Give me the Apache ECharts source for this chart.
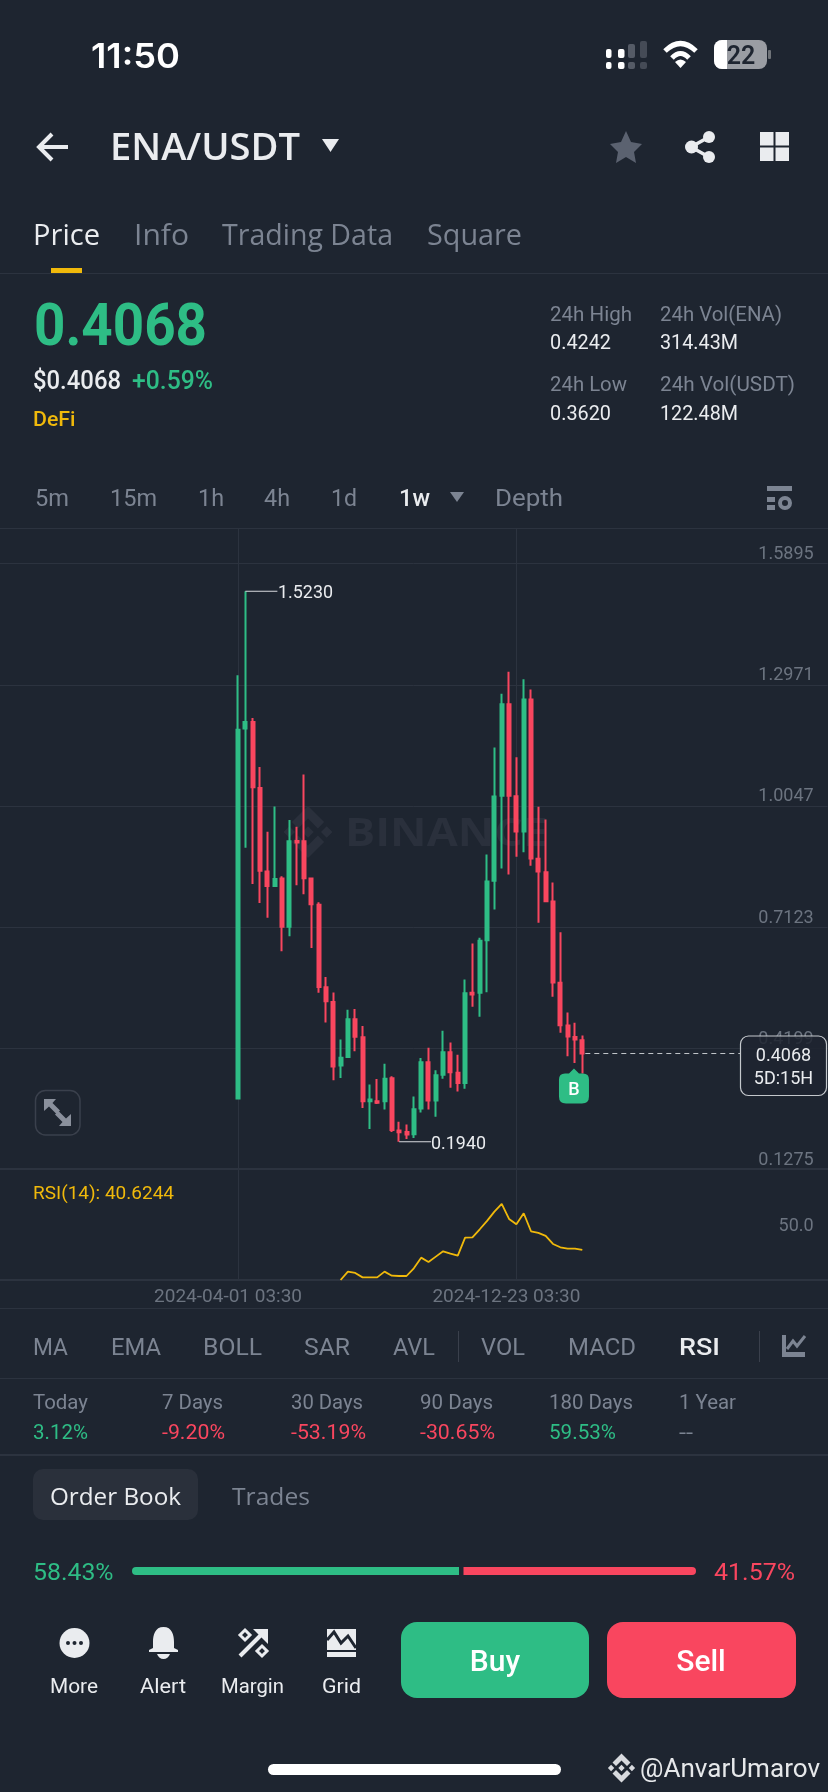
<!DOCTYPE html>
<html><head><meta charset="utf-8">
<script src="https://cdn.jsdelivr.net/npm/echarts@6/dist/echarts.min.js"></script>
<style>html,body{margin:0;padding:0;background:#1e2530}#c{width:828px;height:1792px}</style>
</head><body><div id="c"></div>
<script>
const dates=['2024-04-01','2024-04-08','2024-04-15','2024-04-22','2024-04-29','2024-05-06','2024-05-13','2024-05-20','2024-05-27','2024-06-03','2024-06-10','2024-06-17','2024-06-24','2024-07-01','2024-07-08','2024-07-15','2024-07-22','2024-07-29','2024-08-05','2024-08-12','2024-08-19','2024-08-26','2024-09-02','2024-09-09','2024-09-16','2024-09-23','2024-09-30','2024-10-07','2024-10-14','2024-10-21','2024-10-28','2024-11-04','2024-11-11','2024-11-18','2024-11-25','2024-12-02','2024-12-09','2024-12-16','2024-12-23','2024-12-30','2025-01-06','2025-01-13','2025-01-20','2025-01-27','2025-02-03','2025-02-10','2025-02-17','2025-02-24'];
const opens=[.2983,1.1913,1.2075,1.0480,.8465,.8112,.8293,.7128,.9200,.9191,.8293,.7663,.5667,.5314,.3776,.3986,.4893,.4464,.2917,.2917,.2917,.3470,.2208,.2176,.2120,.2740,.3859,.2933,.3553,.4100,.3601,.3359,.5533,.5533,.6805,.8238,1.0291,1.2504,1.0283,.9429,1.2617,.8769,.8447,.7739,.5775,.4744,.4470,.4390];
const closes=[1.1884,1.2075,1.0499,.8484,.8112,.8284,.7128,.9191,.9162,.8303,.7672,.5677,.5333,.3757,.3967,.4893,.4473,.2917,.2955,.2879,.3461,.2220,.2168,.2112,.2724,.3859,.2933,.3545,.4100,.3617,.3359,.5525,.5493,.6789,.8222,1.0275,1.2504,1.0291,.9429,1.2617,.8777,.8463,.7747,.5783,.4752,.4479,.4406,.4068];
const lows=[.2983,.9038,.8160,.7701,.7348,.8093,.6536,.6899,.8131,.7911,.6613,.5533,.4817,.3423,.3480,.3967,.4120,.2754,.2248,.2850,.2716,.2172,.1940,.2007,.2031,.2643,.2716,.2539,.3456,.3239,.3150,.3215,.5195,.4954,.5549,.7546,.8536,.8391,.8818,.8930,.8600,.7223,.7731,.5436,.4567,.4004,.3842,.3585];
const highs=[1.3202,1.5230,1.2170,1.0986,.9420,1.0031,.8351,.9707,.9544,1.0805,.8293,.7720,.5915,.5543,.4406,.5123,.5141,.4731,.3318,.3452,.3824,.3518,.2418,.2353,.3030,.3963,.4205,.3665,.4615,.4334,.4036,.5855,.6724,.6861,.8874,1.1458,1.2754,1.3285,1.1224,1.3108,1.2859,1.0025,.9719,.8198,.6998,.5058,.4809,.4503];
const rsiValues=[28.54,31.9,31.36,29.6,29.6,29.6,31.9,30.28,30.15,30.15,33.24,37.53,35.79,37.94,40.08,39.14,38.34,45.59,45.72,48.94,52.3,56.06,59.14,53.1,50.96,55.38,48.14,47.47,46.26,43.04,41.69,41.16,41.16,40.62];
const rsiFirstIndex=14;
const priceTicks=[1.5895,1.2971,1.0047,.7123,.4199,.1275];
const rsiTicks=[50];
const labelledDates=['2024-04-01','2024-12-23'];
const lastPrice=.4068;

const LEAD=32, TRAIL=33, BG='#1e2530', GREEN='#2ebd85', RED='#f9465f', GREY='#7c8492', AXIS='#6c7480', LINE='#2c333f', WHITE='#eaecef', YEL='#f0b90b';
const cats=[...Array(LEAD).fill(''),...dates.map(d=>labelledDates.includes(d)?d+' 03:30':d),...Array(TRAIL).fill('')];
const candles=dates.map((d,i)=>[LEAD+i,opens[i],closes[i],lows[i],highs[i]]);
const rsiLine=rsiValues.map((v,i)=>[LEAD+rsiFirstIndex+i,v]);
const markIdx=labelledDates.map(d=>LEAD+dates.indexOf(d));

const FF='Roboto';
const mc=document.createElement('canvas').getContext('2d');
function T(text,x0,x1,yc,size,fill,weight,family){
  const font=(weight||400)+' '+size+'px '+(family||FF);
  mc.font=font;
  const s=x1?(x1-x0)/mc.measureText(text).width:1;
  return {type:'text',x:x0,y:yc+size*0.07,scaleX:s,originX:0,originY:0,z:20,silent:true,style:{text,font,fill,textAlign:'left',textVerticalAlign:'middle'}};
}
function C(text,cx,yc,size,fill,weight){
  return {type:'text',x:cx,y:yc+size*0.07,z:20,silent:true,style:{text,font:(weight||400)+' '+size+'px '+FF,fill,textAlign:'center',textVerticalAlign:'middle'}};
}
function R(x0,y0,x1,y1,fill,r,extra){
  return Object.assign({type:'rect',z:10,silent:true,shape:{x:x0,y:y0,width:x1-x0,height:y1-y0,r:r||0},style:{fill}},extra||{});
}
let shapeCount=0;
function P(d,fill,stroke,lw,extra){
  const name='svgPath'+(shapeCount++);
  echarts.graphic.registerShape(name,echarts.graphic.extendPath(d));
  return Object.assign({type:name,z:10,silent:true,shape:{},style:{fill:fill||'none',stroke:stroke||'none',lineWidth:lw||0}},extra||{});
}
function HL(y,w){return R(0,y,828,y+(w||1),LINE);}
function logo(cx,cy,r,fill,z){
  const f=(a,b)=>(cx+a*r).toFixed(1)+' '+(cy+b*r).toFixed(1);
  const poly=pts=>'M'+pts.map(p=>f(p[0],p[1])).join(' L')+'Z';
  const d=[
    poly([[0,-1],[.62,-.38],[.38,-.14],[0,-.52],[-.38,-.14],[-.62,-.38]]),
    poly([[0,1],[.62,.38],[.38,.14],[0,.52],[-.38,.14],[-.62,.38]]),
    poly([[0,-.22],[.22,0],[0,.22],[-.22,0]]),
    poly([[-.72,-.22],[-.5,0],[-.72,.22],[-.94,0]]),
    poly([[.72,-.22],[.94,0],[.72,.22],[.5,0]])
  ].join(' ');
  return P(d,fill,null,0,{z:z});
}

const chrome=[
  // status bar
  T('11:50',91,180,55,34,'#ffffff',600,'Inter'),
  R(606,49,611.5,58,'#fff',2),R(606,62,611.5,69,'#fff',2),R(618,49,624.5,58,'#fff',2),R(618,62,624.5,69,'#fff',2),
  R(628,44,635,58,'#555b66',2),R(628,62,635,69,'#555b66',2),R(640,41,647,58,'#454b56',2),R(640,62,647,69,'#454b56',2),
  P('M665 51 Q680.5 36 696 51',null,'#fff',5),P('M672 58 Q680.5 49 689 58',null,'#fff',5),P('M675 62 L680.5 68 L686 62 Q680.5 57 675 62Z','#fff'),
  R(714,40,767,69,'#9a9da3',8),R(714,40,727,69,'#fff',[8,0,0,8]),R(768,50,771,59,'#6f7378',1),
  C('22',741,55.5,25,'#1e2530',600),
  // header
  P('M68 147 H40 M52 134 L39 147 L52 160',null,WHITE,4),
  T('ENA/USDT',110,300,147,38,WHITE,600,'Open Sans'),
  P('M322 139 H339 L330.5 152 Z',WHITE),
  P('M626 131 L631 142 L642 144 L634 152 L636 163 L626 157 L616 163 L618 152 L610 144 L621 142Z','#5b6270'),
  P('M709 137 L691 147 L709 157',null,WHITE,3.5),
  {type:'circle',z:10,silent:true,shape:{cx:709,cy:137,r:6},style:{fill:WHITE}},
  {type:'circle',z:10,silent:true,shape:{cx:691.5,cy:147,r:6.5},style:{fill:WHITE}},
  {type:'circle',z:10,silent:true,shape:{cx:709,cy:157,r:6},style:{fill:WHITE}},
  R(760,132,773.5,145.5,WHITE),R(775.5,132,789,145.5,WHITE),R(760,147.5,773.5,161,WHITE),R(775.5,147.5,789,161,WHITE),
  // tabs
  T('Price',33,100,235,29,WHITE,500,'Open Sans'),
  T('Info',134,189,235,29,GREY,500,'Open Sans'),
  T('Trading Data',222,393,235,29,GREY,500,'Open Sans'),
  T('Square',427,522,235,29,GREY,500,'Open Sans'),
  R(51,268,82,273,YEL),
  HL(273),
  // ticker
  T('0.4068',34,207,326,59,GREEN,700),
  T('$0.4068',33,121,381,25,WHITE,500),
  T('+0.59%',132,213,381,25,GREEN,500),
  T('DeFi',33,75.5,420,20,YEL,500),
  T('24h High',550,632,314,21,GREY),
  T('0.4242',550,611,343,20,WHITE),
  T('24h Low',550,627,384,21,GREY),
  T('0.3620',550,611,414,20,WHITE),
  T('24h Vol(ENA)',660,782,314,21,GREY),
  T('314.43M',660,738,343,20,WHITE),
  T('24h Vol(USDT)',660,795,384,21,GREY),
  T('122.48M',660,738,414,20,WHITE),
  // intervals
  T('5m',35,69,498,24,GREY),T('15m',110,157,498,24,GREY),T('1h',198,224,498,24,GREY),T('4h',264,290,498,24,GREY),T('1d',331,357,498,24,GREY),
  T('1w',399,430,498,24,WHITE,500),P('M450 492 H464 L457 502Z',GREY),T('Depth',495,563,498,24,GREY),
  R(767,486,792,491,GREY),R(767,497,775,502,GREY),R(767,505,775,510,GREY),
  {type:'circle',z:10,silent:true,shape:{cx:785,cy:503,r:5},style:{fill:'none',stroke:GREY,lineWidth:4}},
  HL(528),
  // watermark inside chart
  logo(308,832,26,'#2a303c',0),
  Object.assign(T('BINANCE',345,548,832,40,'#2a303c',700,'Open Sans'),{z:0}),
  // expand
  R(35.5,1090.5,80,1135,'none',10,{style:{fill:'none',stroke:'#3a404c',lineWidth:1.5}}),
  P('M44 1099 H56 L52.5 1103 L60 1110.5 L56.5 1114 L49 1106.5 L44 1111Z M71 1126 H59 L62.5 1122 L55 1114.5 L58.5 1111 L66 1118.5 L71 1114Z','#8a909c'),
  // RSI title
  T('RSI(14): 40.6244',33,174,1193,19,YEL),
  HL(1308),
  // indicators
  T('MA',33,68,1347,24,GREY),T('EMA',111,161,1347,24,GREY),T('BOLL',203,262,1347,24,GREY),T('SAR',304,350,1347,24,GREY),T('AVL',393,435,1347,24,GREY),
  R(458,1331,459,1362,'#3a404c'),
  T('VOL',481,525,1347,24,GREY),T('MACD',568,636,1347,24,GREY),T('RSI',679,720,1347,24,WHITE,500),
  R(759,1331,760,1362,'#3a404c'),
  P('M782 1335 H786 V1352 H805 V1357 H782Z',GREY),P('M787 1349 L793 1341 L797 1346 L805 1336',null,GREY,3),
  HL(1378),
  // performance
  T('Today',33,88,1403,20,GREY),T('3.12%',33,88,1433,20,GREEN),
  T('7 Days',162,223,1403,20,GREY),T('-9.20%',162,225,1433,20,RED),
  T('30 Days',291,363,1403,20,GREY),T('-53.19%',291,366,1433,20,RED),
  T('90 Days',420,493,1403,20,GREY),T('-30.65%',420,495,1433,20,RED),
  T('180 Days',549,633,1403,20,GREY),T('59.53%',549,616,1433,20,GREEN),
  T('1 Year',679,736,1403,20,GREY),T('--',679,693,1433,20,GREY),
  HL(1454,2),
  // order book
  R(33,1469,198,1520,'#2a303b',10),
  T('Order Book',50,181,1496,24,WHITE,500,'Open Sans'),
  T('Trades',232,310,1496,24,GREY,500,'Open Sans'),
  T('58.43%',33,113.5,1572,24,GREEN),
  R(132,1567,459,1575,GREEN,[4,0,0,4]),R(463.5,1567,696,1575,RED,[0,4,4,0]),
  T('41.57%',714,795,1572,24,RED),
  // bottom bar
  {type:'circle',z:10,silent:true,shape:{cx:74.5,cy:1643,r:15},style:{fill:WHITE}},
  {type:'circle',z:11,silent:true,shape:{cx:68,cy:1643,r:2},style:{fill:BG}},
  {type:'circle',z:11,silent:true,shape:{cx:74.5,cy:1643,r:2},style:{fill:BG}},
  {type:'circle',z:11,silent:true,shape:{cx:81,cy:1643,r:2},style:{fill:BG}},
  P('M163.5 1627 C155 1627 153 1635 153 1642 L153 1648 L149 1650 V1652 H178 V1650 L174 1648 V1642 C174 1635 172 1627 163.5 1627Z M157 1654 H170 Q168 1659 163.5 1659 Q159 1659 157 1654Z',WHITE),
  P('M240 1656 L262 1634',null,WHITE,4),P('M253 1629 H268 V1644Z',WHITE),
  P('M245 1630 L250 1635 L245 1640 L240 1635Z M262 1646 L267 1651 L262 1656 L257 1651Z',BG,WHITE,3),
  R(327,1652,356,1657,WHITE),R(327,1629,356,1650,WHITE),
  P('M327 1640 L334 1632 L341 1643 L348 1636 L356 1648',null,BG,3,{z:11}),
  T('More',50,98,1687,20,WHITE),T('Alert',140,186,1687,20,WHITE),T('Margin',221,284,1687,20,WHITE),T('Grid',322,361,1687,20,WHITE),
  R(401,1622,589,1698,GREEN,16),R(607,1622,796,1698,RED,16),
  C('Buy',495,1661,30,'#ffffff',500),C('Sell',701,1661,30,'#ffffff',500),
  // footer
  R(268,1764,561,1775,'#ffffff',5.5),
  logo(621.5,1768,14.5,'#d8dade',10),
  T('@AnvarUmarov',640,820,1769,26,'#e6e8ea')
];

const chart=echarts.init(document.getElementById('c'),null,{renderer:'canvas',width:828,height:1792});
const vLines=()=>({silent:true,symbol:'none',z:1,animation:false,label:{show:false},emphasis:{disabled:true},lineStyle:{color:LINE,width:1,type:'solid'},data:markIdx.map(i=>({xAxis:i}))});
const xBase={type:'category',data:cats,boundaryGap:true,axisTick:{show:false},splitLine:{show:false},axisLine:{show:true,lineStyle:{color:LINE,width:2}}};
chart.setOption({
  backgroundColor:BG,animation:false,
  grid:[{left:-1,width:828.67,top:529,height:640.2},{left:-1,width:828.67,top:1169.2,height:110.8}],
  xAxis:[
    Object.assign({},xBase,{gridIndex:0,axisLabel:{show:false}}),
    Object.assign({},xBase,{gridIndex:1,axisLabel:{show:true,interval:(i)=>markIdx.includes(i),color:AXIS,fontFamily:FF,fontSize:19,margin:8,padding:[0,20,0,0],hideOverlap:false}})
  ],
  yAxis:[
    {gridIndex:0,type:'value',position:'right',min:.1275,max:1.6733,axisLine:{show:false},
      axisTick:{show:false,customValues:priceTicks},
      splitLine:{show:true,lineStyle:{color:LINE,width:1}},
      axisLabel:{inside:true,customValues:priceTicks,formatter:v=>v.toFixed(4),color:AXIS,fontFamily:FF,fontSize:18,margin:14,verticalAlign:'bottom',showMinLabel:true,showMaxLabel:true}},
    {gridIndex:1,type:'value',position:'right',min:28.54,max:73.1,axisLine:{show:false},
      axisTick:{show:false,customValues:rsiTicks},splitLine:{show:false},
      axisLabel:{inside:true,customValues:rsiTicks,formatter:v=>v.toFixed(1),color:AXIS,fontFamily:FF,fontSize:18,margin:14,verticalAlign:'middle'}}
  ],
  series:[
    {name:'ENA/USDT',type:'candlestick',xAxisIndex:0,yAxisIndex:0,data:candles,encode:{x:0,y:[1,2,3,4]},barWidth:3.5,z:3,
      itemStyle:{color:GREEN,color0:RED,borderColor:GREEN,borderColor0:RED,borderWidth:2},markLine:vLines()},
    {name:'RSI(14)',type:'line',xAxisIndex:1,yAxisIndex:1,data:rsiLine,showSymbol:false,symbol:'none',z:3,clip:true,
      lineStyle:{color:YEL,width:1.8},markLine:vLines()}
  ]
});

// callouts anchored through the chart's own scales
const px=(idx,val)=>chart.convertToPixel({xAxisIndex:0,yAxisIndex:0},[LEAD+idx,val]);
const iHigh=highs.indexOf(Math.max(...highs)), iLow=lows.indexOf(Math.min(...lows)), iLast=dates.length-1;
const hp=px(iHigh,highs[iHigh]), lp=px(iLow,lows[iLow]), cp=px(iLast,lastPrice), bp=px(iLast-1,lows[iLast-1]);
const boxL=740.5, boxR=826.5;
const callouts=[
  R(hp[0],hp[1]-.5,hp[0]+32,hp[1]+.5,'#d8dade',0,{z:15}),
  T(highs[iHigh].toFixed(4),278,333,hp[1]+1,18,WHITE),
  R(lp[0],lp[1]-.5,lp[0]+32,lp[1]+.5,'#d8dade',0,{z:15}),
  T(lows[iLow].toFixed(4),431,486,lp[1]+2,18,WHITE),
  {type:'line',z:15,silent:true,shape:{x1:cp[0]+3,y1:cp[1],x2:boxL,y2:cp[1]},style:{stroke:'#c4c8cc',lineWidth:1,lineDash:[5,4]}},
  R(boxL,1036,boxR,1095.5,'none',8,{z:16,style:{fill:'rgba(30,37,48,0.85)',stroke:'#c4c8cc',lineWidth:1.2}}),
  C(lastPrice.toFixed(4),783.5,1055,18,WHITE),
  C('5D:15H',783.5,1078,18,WHITE),
  P((()=>{const x=bp[0]-1,t=bp[1]+5.5;return `M${x} ${t} L${x+5} ${t+5} H${x+9} Q${x+15} ${t+5} ${x+15} ${t+11} V${t+28} Q${x+15} ${t+35} ${x+8} ${t+35} H${x-8} Q${x-15} ${t+35} ${x-15} ${t+28} V${t+11} Q${x-15} ${t+5} ${x-9} ${t+5} H${x-5}Z`;})(),GREEN,null,0,{z:17}),
  C('B',bp[0]-1,bp[1]+26,18,'#ffffff',500)
];
chart.setOption({graphic:chrome.concat(callouts)});
</script></body></html>
